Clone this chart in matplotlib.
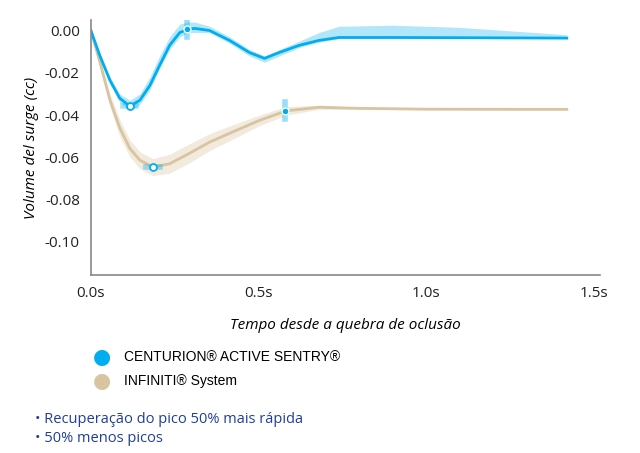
import numpy as np
import matplotlib.pyplot as plt

# dados
t_blue = [0, 0.027, 0.057, 0.086, 0.116, 0.146, 0.176, 0.205, 0.235, 0.265, 0.29, 0.31, 0.354, 0.414, 0.473, 0.518, 0.562, 0.622, 0.68, 0.74, 0.9, 1.1, 1.42]
y_blue = [0, -0.012, -0.0236, -0.032, -0.0358, -0.033, -0.026, -0.0165, -0.007, -0.001, 0.0006, 0.001, 0.0, -0.0047, -0.0104, -0.0132, -0.0104, -0.007, -0.0047, -0.0033, -0.0033, -0.0034, -0.0036]
up_blue = [0, -0.011, -0.022, -0.030, -0.033, -0.030, -0.022, -0.012, -0.003, 0.003, 0.004, 0.004, 0.002, -0.003, -0.009, -0.012, -0.009, -0.005, -0.001, 0.002, 0.0025, 0.0015, -0.002]
lo_blue = [0, -0.013, -0.025, -0.034, -0.038, -0.035, -0.028, -0.018, -0.009, -0.003, -0.001, -0.001, -0.001, -0.006, -0.012, -0.015, -0.012, -0.008, -0.0055, -0.0038, -0.0036, -0.0036, -0.0038]

t_tan = [0, 0.027, 0.057, 0.086, 0.116, 0.146, 0.185, 0.235, 0.295, 0.354, 0.414, 0.503, 0.583, 0.68, 0.8, 1.0, 1.42]
y_tan = [0, -0.015, -0.033, -0.046, -0.0557, -0.0613, -0.0646, -0.063, -0.058, -0.0528, -0.0486, -0.0425, -0.038, -0.0363, -0.0368, -0.0372, -0.0373]
w_tan = [0, 0.002, 0.003, 0.004, 0.004, 0.004, 0.004, 0.0045, 0.0045, 0.004, 0.0035, 0.0025, 0.002, 0.001, 0.0005, 0.0003, 0.0003]

pts_open = [(0.116, -0.0358), (0.185, -0.0646)]
pts_fill = [(0.286, 0.0007), (0.58, -0.038)]

BLUE = '#00aeef'
TAN = '#d8c4a0'

fig = plt.figure(figsize=(6.4, 4.53), dpi=100)
ax = fig.add_axes([0.142, 0.393, 0.796, 0.563])

ax.fill_between(t_blue, lo_blue, up_blue, color=BLUE, alpha=0.3, lw=0)
yt = np.array(y_tan); wt = np.array(w_tan)
ax.fill_between(t_tan, yt - wt, yt + wt, color=TAN, alpha=0.35, lw=0)
ax.plot(t_tan, y_tan, color=TAN, lw=2, solid_joinstyle='round')
ax.plot(t_blue, y_blue, color=BLUE, lw=2, solid_joinstyle='round')

for x, y in pts_fill:
    ax.plot([x, x], [y - 0.004, y + 0.004], color=BLUE, alpha=0.4, lw=4)
    ax.plot(x, y, 'o', ms=5, mfc=BLUE, mec='white', mew=1)
for x, y in pts_open:
    ax.plot([x - 0.02, x + 0.02], [y, y], color=BLUE, alpha=0.35, lw=4)
    ax.plot(x, y, 'o', ms=5, mfc='white', mec=BLUE, mew=1.3)

ax.set_xlim(0, 1.52)
ax.set_ylim(-0.1156, 0.005)
ax.set_xticks([0, 0.5, 1.0, 1.5])
ax.set_xticklabels(['0.0s', '0.5s', '1.0s', '1.5s'])
ax.set_yticks([0, -0.02, -0.04, -0.06, -0.08, -0.10])
ax.set_yticklabels(['0.00', '-0.02', '-0.04', '-0.06', '-0.08', '-0.10'])
for s in ['top', 'right']:
    ax.spines[s].set_visible(False)
for s in ['left', 'bottom']:
    ax.spines[s].set_color('#888888')
    ax.spines[s].set_linewidth(1.2)
ax.tick_params(length=0, labelsize=11, pad=8, labelcolor='#222222')
for lab in ax.get_xticklabels() + ax.get_yticklabels():
    lab.set_family('Open Sans')
ax.set_xlabel('Tempo desde a quebra de oclusão', style='italic', fontsize=11, family='Open Sans', labelpad=12)
ax.set_ylabel('Volume del surge (cc)', style='italic', fontsize=11, family='Open Sans', labelpad=4)

fig.text(0.16, 0.211, '●', color=BLUE, fontsize=15, va='center', ha='center')
fig.text(0.193, 0.211, 'CENTURION® ACTIVE SENTRY®', fontsize=10, va='center', family='Liberation Sans')
fig.text(0.16, 0.159, '●', color=TAN, fontsize=15, va='center', ha='center')
fig.text(0.193, 0.159, 'INFINITI® System', fontsize=10, va='center', family='Liberation Sans')
fig.text(0.055, 0.075, '• Recuperação do pico 50% mais rápida', fontsize=10.5, va='center', color='#1f3f99', family='Open Sans')
fig.text(0.055, 0.033, '• 50% menos picos', fontsize=10.5, va='center', color='#1f3f99', family='Open Sans')

fig.savefig('out.png', dpi=100)
